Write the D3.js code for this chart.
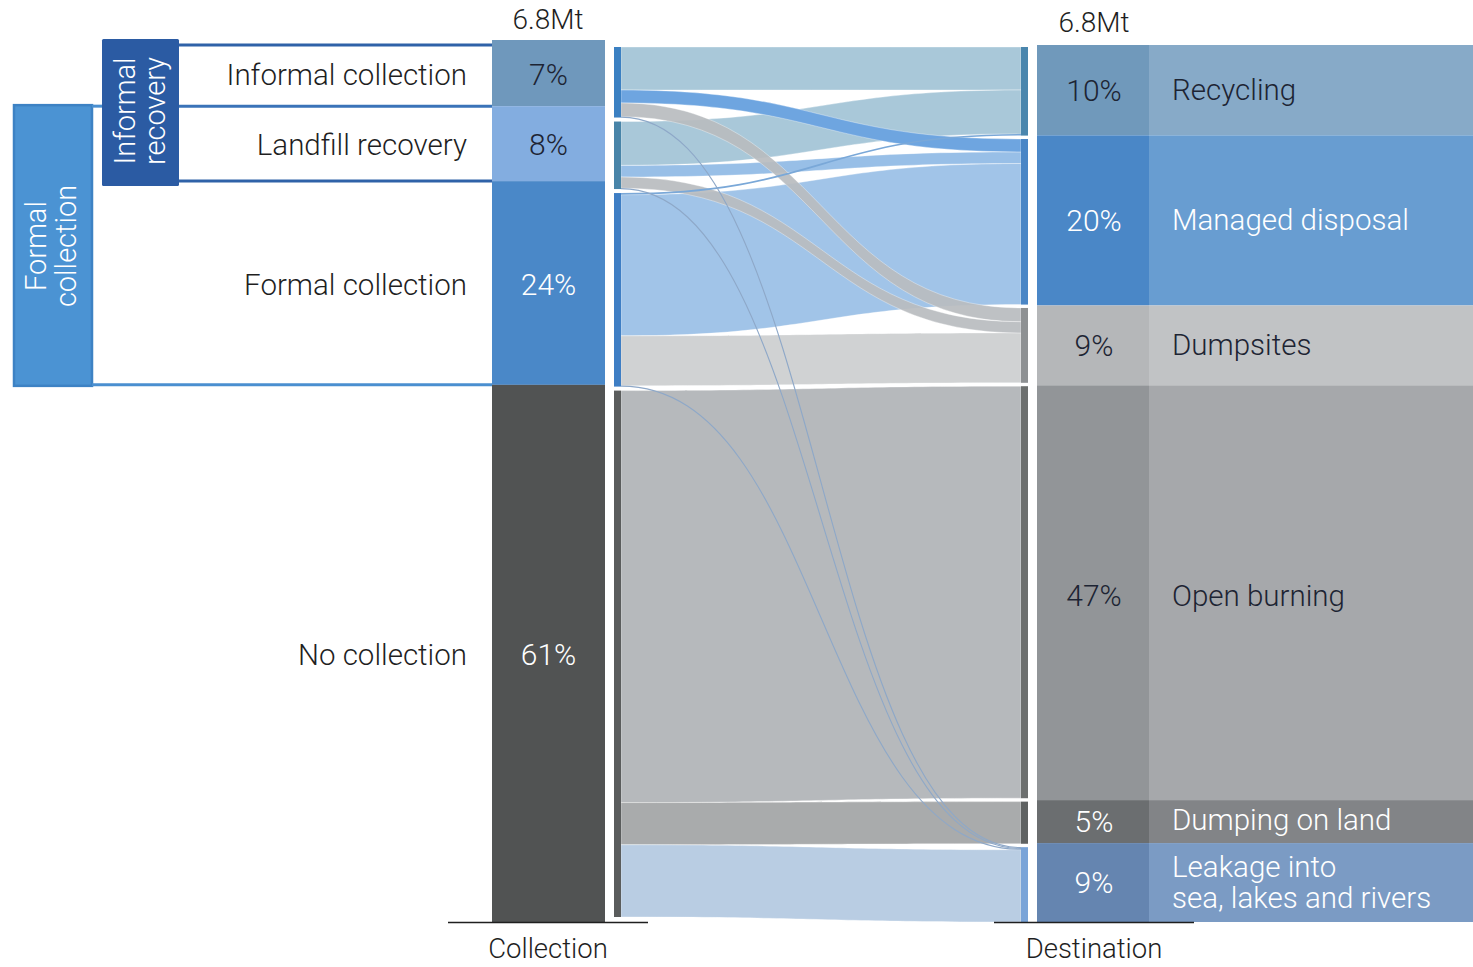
<!DOCTYPE html>
<html>
<head>
<meta charset="utf-8">
<script src="https://cdn.jsdelivr.net/npm/d3@7"></script>
<style>
  html, body { margin: 0; padding: 0; background: #fff; }
  svg { display: block; }
  text { font-family: Roboto, "Liberation Sans", sans-serif; font-weight: 300; }
</style>
</head>
<body>
<svg id="chart" width="1473" height="967"></svg>
<script>
// ---------- DATA ----------
const collectionNames = ["Informal collection", "Landfill recovery", "Formal collection", "No collection"];
const collectionLabels = ["7%", "8%", "24%", "61%"];
const collectionShare = [7.5, 8.5, 23.1, 60.9];          // bar sizes
const destinationNames = ["Recycling", "Managed disposal", "Dumpsites", "Open burning", "Dumping on land", "Leakage into|sea, lakes and rivers"];
const destinationLabels = ["10%", "20%", "9%", "47%", "5%", "9%"];
const destinationShare = [10.3, 19.4, 9.1, 47.3, 4.9, 9.0];
const totalLabel = "6.8Mt";
const axisLabels = ["Collection", "Destination"];
// flows (source index, target index, value in %)
const flowFrom  = [0,   0,   0,   0,   1,   1,    1,    1,   2,   2,    2,   2,   3,    3,   3];
const flowTo    = [0,   1,   2,   5,   0,   1,    2,    5,   0,   1,    2,   5,   3,    4,   5];
const flowValue = [5.0, 1.5, 1.6, 0.1, 5.1, 1.35, 1.3, 0.1, 0.2, 16.4, 5.8, 0.1, 47.9, 4.9, 8.4];

// ---------- STYLE ----------
const colLeftBar = ["#6f98bc", "#83ade0", "#4a88c8", "#515353"];
const colLeftText = ["#1d2433", "#1d2433", "#ffffff", "#ffffff"];
const colLeftNode = ["#3b80c2", "#4884a8", "#3e7ec4", "#5a5c5c"];
const colRightPct = ["#7099bb", "#4a87c7", "#b5b7b9", "#929598", "#6b6e70", "#6585b0"];
const colRightLab = ["#87aac8", "#689dd1", "#c1c3c5", "#a6a8ab", "#828487", "#7b9bc4"];
const colRightText = ["#1d2433", "#ffffff", "#1d2433", "#1d2433", "#ffffff", "#ffffff"];
const colRightNode = ["#4a86ad", "#4a86c6", "#8e9193", "#6d706f", "#5f6262", "#7aa4d8"];
const colFlow = ["#a9c8d9", "#6ea5e0", "#b9bcbf", "#8ea8c8", "#a9c8d9", "#98bfe7", "#b9bcbf", "#8ea8c8",
                 "#7aa8d8", "#a1c4e8", "#d0d2d3", "#8ea8c8", "#b6b9bc", "#a9abac", "#b9cde3"];
const drawOrder = [12, 13, 14, 0, 4, 9, 10, 5, 1, 2, 6, 8, 3, 7, 11];

const svg = d3.select("#chart");

// ---------- LABEL BARS (scales) ----------
const yLeft = d3.scaleLinear().domain([0, 100]).range([40, 922]);
const yRight = d3.scaleLinear().domain([0, 100]).range([45, 922]);
const cumL = d3.cumsum([0, ...collectionShare]);
const cumR = d3.cumsum([0, ...destinationShare]);
const leftBarX = [492, 605];
const rightPctX = [1037, 1149];
const rightLabX = [1149, 1473];

// ---------- SANKEY LAYOUT ----------
const nodeL = [614, 621], nodeR = [1021, 1028];
const padL = 4;
const sumL = collectionNames.map((_, i) => d3.sum(flowValue.filter((v, k) => flowFrom[k] === i)));
const sumR = destinationNames.map((_, j) => d3.sum(flowValue.filter((v, k) => flowTo[k] === j)));
const yTop = 47;
const ky = (917 - yTop - padL * (sumL.length - 1)) / d3.sum(sumL);
const padR = (922 - yTop - ky * d3.sum(sumR)) / (sumR.length - 1);
const vL = d3.scaleLinear().domain([0, 1]).range([0, ky]);
const leftY0 = [], rightY0 = [];
{ let y = yTop; sumL.forEach((s, i) => { leftY0.push(y); y += vL(s) + padL; }); }
{ let y = yTop; sumR.forEach((s, j) => { rightY0.push(y); y += vL(s) + padR; }); }

const links = flowValue.map((v, k) => ({ k, s: flowFrom[k], t: flowTo[k], w: vL(v) }));
collectionNames.forEach((_, i) => {
  let y = leftY0[i];
  links.filter(l => l.s === i).sort((a, b) => a.t - b.t).forEach(l => { l.sy0 = y; y += l.w; l.sy1 = y; });
});
destinationNames.forEach((_, j) => {
  let y = rightY0[j];
  links.filter(l => l.t === j).sort((a, b) => a.s - b.s).forEach(l => { l.ty0 = y; y += l.w; l.ty1 = y; });
});

const x0 = nodeL[1], x1 = nodeR[0], xm = (x0 + x1) / 2;
function band(l) {
  const p = d3.path();
  p.moveTo(x0, l.sy0);
  p.bezierCurveTo(xm, l.sy0, xm, l.ty0, x1, l.ty0);
  p.lineTo(x1, l.ty1);
  p.bezierCurveTo(xm, l.ty1, xm, l.sy1, x0, l.sy1);
  p.closePath();
  return p.toString();
}
const thinLink = d3.linkHorizontal().x(d => d[0]).y(d => d[1]);

const gLinks = svg.append("g");
drawOrder.forEach(k => {
  const l = links[k];
  if (l.w < 2) {
    gLinks.append("path")
      .attr("d", thinLink({ source: [x0, (l.sy0 + l.sy1) / 2], target: [x1, (l.ty0 + l.ty1) / 2] }))
      .attr("fill", "none").attr("stroke", colFlow[k]).attr("stroke-width", Math.max(1.1, l.w));
  } else {
    gLinks.append("path").attr("d", band(l))
      .attr("fill", colFlow[k]).attr("fill-opacity", (l.t === 2 && l.s < 2) ? 0.92 : 1)
      .attr("stroke", "#ffffff").attr("stroke-width", 0.5).attr("stroke-opacity", 0.7);
  }
});

// thin node bars
svg.append("g").selectAll("rect").data(sumL).join("rect")
  .attr("x", nodeL[0]).attr("width", nodeL[1] - nodeL[0])
  .attr("y", (d, i) => leftY0[i]).attr("height", d => vL(d))
  .attr("fill", (d, i) => colLeftNode[i]);
svg.append("g").selectAll("rect").data(sumR).join("rect")
  .attr("x", nodeR[0]).attr("width", nodeR[1] - nodeR[0])
  .attr("y", (d, j) => rightY0[j]).attr("height", d => vL(d))
  .attr("fill", (d, j) => colRightNode[j]);

// ---------- LEFT BRACKETS ----------
const gB = svg.append("g");
gB.append("rect").attr("x", 14).attr("y", yLeft(cumL[1]) - 1).attr("width", 78)
  .attr("height", yLeft(cumL[3]) - yLeft(cumL[1]) + 2)
  .attr("fill", "#4b93d3").attr("stroke", "#3d82c4").attr("stroke-width", 2.5);
gB.append("line").attr("x1", 92).attr("x2", leftBarX[0])
  .attr("y1", yLeft(cumL[3])).attr("y2", yLeft(cumL[3]))
  .attr("stroke", "#4a8fd0").attr("stroke-width", 3);
gB.append("line").attr("x1", 92).attr("x2", 103)
  .attr("y1", yLeft(cumL[1])).attr("y2", yLeft(cumL[1]))
  .attr("stroke", "#4a8fd0").attr("stroke-width", 3);
[0, 1, 2].forEach(i => {
  gB.append("line").attr("x1", 178).attr("x2", leftBarX[0])
    .attr("y1", yLeft(cumL[i]) + (i === 0 ? 5 : 0)).attr("y2", yLeft(cumL[i]) + (i === 0 ? 5 : 0))
    .attr("stroke", i === 1 ? "#3a73b8" : "#2f62a8").attr("stroke-width", 3);
});
gB.append("rect").attr("x", 102).attr("y", 39).attr("width", 77).attr("height", 147)
  .attr("rx", 1.5).attr("fill", "#2b5ba3");

function rotText(cx, cy, lines, size) {
  const t = gB.append("text").attr("transform", `translate(${cx},${cy}) rotate(-90)`)
    .attr("text-anchor", "middle").attr("fill", "#ffffff").attr("font-size", size);
  lines.forEach((s, i) => t.append("tspan").attr("x", 0).attr("dy", i === 0 ? 0 : "1.02em").text(s));
}
rotText(46, 246, ["Formal", "collection"], 29);
rotText(135, 111, ["Informal", "recovery"], 29);

// ---------- LEFT LABEL BAR ----------
const gL = svg.append("g");
gL.selectAll("rect").data(collectionShare).join("rect")
  .attr("x", leftBarX[0]).attr("width", leftBarX[1] - leftBarX[0])
  .attr("y", (d, i) => yLeft(cumL[i])).attr("height", d => yLeft(d) - yLeft(0))
  .attr("fill", (d, i) => colLeftBar[i]);
gL.selectAll("text.pct").data(collectionLabels).join("text").attr("class", "pct")
  .attr("x", (leftBarX[0] + leftBarX[1]) / 2)
  .attr("y", (d, i) => (yLeft(cumL[i]) + yLeft(cumL[i + 1])) / 2 + 1)
  .attr("dy", "0.36em").attr("text-anchor", "middle").attr("font-size", 30)
  .attr("fill", (d, i) => colLeftText[i]).text(d => d);
gL.selectAll("text.name").data(collectionNames).join("text").attr("class", "name")
  .attr("x", 467)
  .attr("y", (d, i) => (yLeft(cumL[i]) + yLeft(cumL[i + 1])) / 2 + 1)
  .attr("dy", "0.36em").attr("text-anchor", "end").attr("font-size", 29.5)
  .attr("fill", "#1f1f1f").text(d => d);

// ---------- RIGHT LABEL BAR ----------
const gR = svg.append("g");
gR.selectAll("rect.p").data(destinationShare).join("rect").attr("class", "p")
  .attr("x", rightPctX[0]).attr("width", rightPctX[1] - rightPctX[0])
  .attr("y", (d, j) => yRight(cumR[j])).attr("height", d => yRight(d) - yRight(0))
  .attr("fill", (d, j) => colRightPct[j]);
gR.selectAll("rect.l").data(destinationShare).join("rect").attr("class", "l")
  .attr("x", rightLabX[0]).attr("width", rightLabX[1] - rightLabX[0])
  .attr("y", (d, j) => yRight(cumR[j])).attr("height", d => yRight(d) - yRight(0))
  .attr("fill", (d, j) => colRightLab[j]);
gR.selectAll("text.pct").data(destinationLabels).join("text").attr("class", "pct")
  .attr("x", (rightPctX[0] + rightPctX[1]) / 2 + 1)
  .attr("y", (d, j) => (yRight(cumR[j]) + yRight(cumR[j + 1])) / 2 + (j === 3 ? 3 : 0))
  .attr("dy", "0.36em").attr("text-anchor", "middle").attr("font-size", 30)
  .attr("fill", (d, j) => colRightText[j]).text(d => d);
destinationNames.forEach((name, j) => {
  const parts = name.split("|");
  const cy = (yRight(cumR[j]) + yRight(cumR[j + 1])) / 2;
  const t = gR.append("text").attr("x", 1172).attr("font-size", 29.5)
    .attr("fill", colRightText[j]);
  if (parts.length === 1) {
    t.attr("y", cy + (j === 4 ? -2 : (j === 3 ? 3 : -1))).attr("dy", "0.36em").text(name);
  } else {
    parts.forEach((s, i) => t.append("tspan").attr("x", 1172)
      .attr("y", cy - 16 + i * 31).attr("dy", "0.36em").text(s));
  }
});

// ---------- TOTALS & AXIS LABELS ----------
svg.append("text").attr("x", 548).attr("y", 29).attr("text-anchor", "middle")
  .attr("font-size", 28).attr("fill", "#1f1f1f").text(totalLabel);
svg.append("text").attr("x", 1094).attr("y", 32).attr("text-anchor", "middle")
  .attr("font-size", 28).attr("fill", "#1f1f1f").text(totalLabel);

const axisX = [548, 1094];
axisX.forEach((cx, i) => {
  svg.append("line").attr("x1", cx - 100).attr("x2", cx + 100).attr("y1", 922.5).attr("y2", 922.5)
    .attr("stroke", "#1f1f1f").attr("stroke-width", 1.3);
  svg.append("text").attr("x", cx).attr("y", 958).attr("text-anchor", "middle")
    .attr("font-size", 27.5).attr("fill", "#1f1f1f").text(axisLabels[i]);
});
</script>
</body>
</html>
